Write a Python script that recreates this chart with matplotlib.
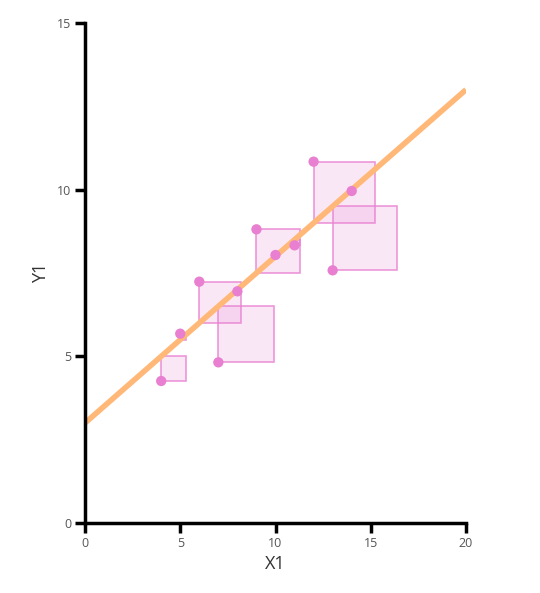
import matplotlib
matplotlib.use("Agg")
import matplotlib.pyplot as plt
from matplotlib.patches import Rectangle
import numpy as np

x1 = [10, 8, 13, 9, 11, 14, 6, 4, 12, 7, 5]
y1 = [8.04, 6.95, 7.58, 8.81, 8.33, 9.96, 7.24, 4.26, 10.84, 4.82, 5.68]
intercept = 3.0
slope = 0.5
x_ticks = [0, 5, 10, 15, 20]
y_ticks = [0, 5, 10, 15]

plt.rcParams['font.family'] = ['Open Sans', 'DejaVu Sans']
fig = plt.figure(figsize=(5.4, 5.93), dpi=100)
ax = fig.add_axes([85/540, 70/593, 381/540, 500/593])
ax.set_xlim(0, 20)
ax.set_ylim(0, 15)

pink = '#e87fd0'
fig.canvas.draw()
p0 = ax.transData.transform((0, 0))
p1 = ax.transData.transform((1, 1))
ppx = p1[0] - p0[0]
ppy = p1[1] - p0[1]

for xi, yi in zip(x1, y1):
    yl = intercept + slope * xi
    r = yi - yl
    side = abs(r)
    w = side * ppy / ppx
    ax.add_patch(Rectangle((xi, min(yi, yl)), w, side, facecolor=pink, alpha=0.18,
                           edgecolor='none', zorder=1))
    ax.add_patch(Rectangle((xi, min(yi, yl)), w, side, facecolor='none',
                           edgecolor=pink, alpha=0.8, lw=1.2, zorder=1.5))

xs = np.array([0, 20])
ax.plot(xs, intercept + slope * xs, color='#ffb877', lw=4, zorder=2, solid_capstyle='butt')
ax.scatter(x1, y1, s=55, color=pink, zorder=3, edgecolors='none')

for s in ['top', 'right']:
    ax.spines[s].set_visible(False)
for s in ['left', 'bottom']:
    ax.spines[s].set_linewidth(2.5)
    ax.spines[s].set_color('black')
ax.set_xticks(x_ticks)
ax.set_yticks(y_ticks)
ax.tick_params(length=7, width=2.5, labelsize=9, labelcolor='#555555', pad=3)
ax.set_xlabel('X1', fontsize=13, color='#333333', labelpad=4)
ax.set_ylabel('Y1', fontsize=13, color='#333333', labelpad=5)

fig.savefig('out.png', dpi=100)
